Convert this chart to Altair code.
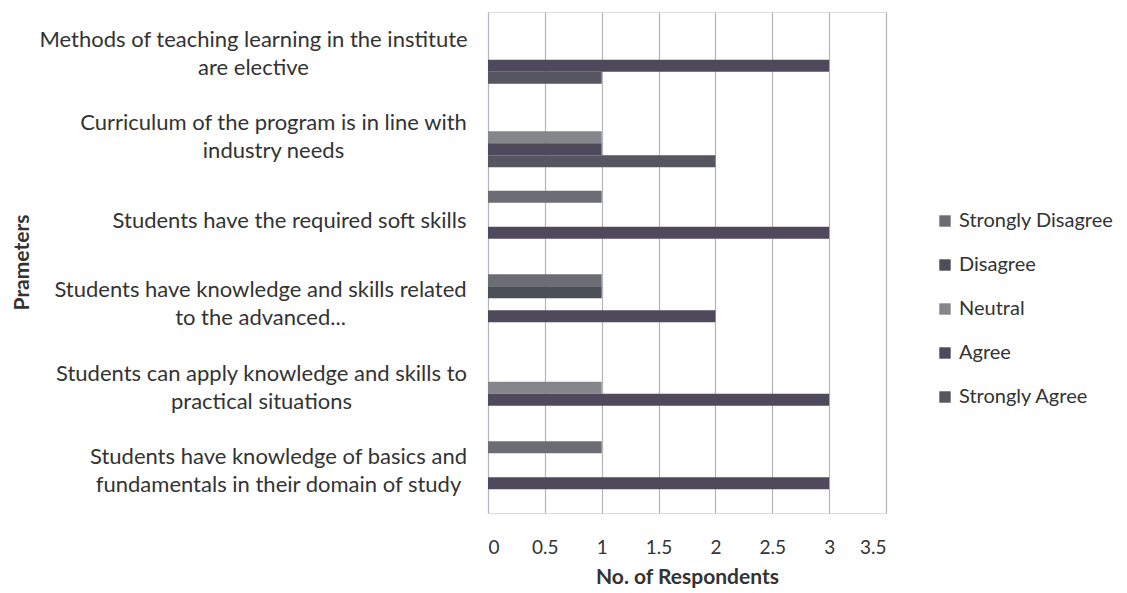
import altair as alt
import pandas as pd

# Categories, listed top to bottom as they appear
categories = [
    "Methods of teaching learning in the institute|are elective",
    "Curriculum of the program is in line with|industry needs",
    "Students have the required soft skills",
    "Students have knowledge and skills related|to the advanced...",
    "Students can apply knowledge and skills to|practical situations",
    "Students have knowledge of basics and|fundamentals in their domain of study",
]

series_names = ["Strongly Disagree", "Disagree", "Neutral", "Agree", "Strongly Agree"]

strongly_disagree = [0, 0, 1, 1, 0, 1]
disagree = [0, 0, 0, 1, 0, 0]
neutral = [0, 1, 0, 0, 1, 0]
agree = [3, 1, 3, 2, 3, 3]
strongly_agree = [1, 2, 0, 0, 0, 0]

series_colors = ["#6c6c74", "#4b4e57", "#85858c", "#4e4a5c", "#55565f"]

x_ticks = [0, 0.5, 1, 1.5, 2, 2.5, 3, 3.5]

values = [strongly_disagree, disagree, neutral, agree, strongly_agree]
rows = []
for s_name, vals in zip(series_names, values):
    for cat, v in zip(categories, vals):
        rows.append({"Parameter": cat, "Response": s_name, "Count": v})
df = pd.DataFrame(rows)

FONT = "Lato"
TEXT = "#333333"

# label block half-widths so that wrapped lines are centred, block right-aligned
label_pad = [235, 215, 199, 228, 227, 210]
pad_conditions = [
    {"test": f"datum.value === {repr(c)}", "value": p}
    for c, p in zip(categories, label_pad)
]

chart = (
    alt.Chart(df)
    .mark_bar()
    .encode(
        y=alt.Y(
            "Parameter:N",
            sort=categories,
            scale=alt.Scale(paddingInner=0.28, paddingOuter=0.14),
            axis=alt.Axis(
                title="Prameters",
                titleFont=FONT,
                titleFontSize=21,
                titleFontWeight="bold",
                titleColor=TEXT,
                titleAngle=270,
                titleX=-466,
                titleY=250,
                titleAlign="center",
                titleBaseline="middle",
                labelExpr="split(datum.label, '|')",
                labelFont=FONT,
                labelFontSize=22,
                labelColor=TEXT,
                labelLineHeight=28,
                labelLimit=600,
                labelAlign="center",
                labelPadding={"condition": pad_conditions, "value": 22},
                labelOffset={"condition": {"test": "indexof(datum.value, '|') >= 0", "value": -14}, "value": 0},
                ticks=False,
                domain=False,
                grid=False,
            ),
        ),
        yOffset=alt.YOffset(
            "Response:N",
            sort=series_names,
            scale=alt.Scale(paddingInner=0, paddingOuter=0),
        ),
        x=alt.X(
            "Count:Q",
            scale=alt.Scale(domain=[0, 3.5], nice=False),
            axis=alt.Axis(
                title="No. of Respondents",
                values=x_ticks,
                format="~g",
                titleFont=FONT,
                titleFontSize=21,
                titleFontWeight="bold",
                titleColor=TEXT,
                titlePadding=9,
                labelFont=FONT,
                labelFontSize=19,
                labelColor=TEXT,
                labelPadding=25,
                ticks=False,
                domain=False,
                grid=True,
                gridColor="#b4b4bc",
                gridWidth=1.2,
            ),
        ),
        color=alt.Color(
            "Response:N",
            sort=series_names,
            scale=alt.Scale(domain=series_names, range=series_colors),
            legend=alt.Legend(
                title=None,
                orient="none",
                legendX=447,
                legendY=199,
                symbolType="square",
                symbolSize=130,
                symbolStrokeWidth=0,
                labelFont=FONT,
                labelFontSize=20,
                labelColor=TEXT,
                labelOffset=4,
                rowPadding=24,
                labelLimit=300,
            ),
        ),
    )
    .properties(
        width=398,
        height=501,
        padding={"left": 480, "top": 4, "right": 233, "bottom": 80},
        autosize=alt.AutoSizeParams(type="none"),
    )
    .configure_view(stroke=None)
    .configure(background="white")
)

chart.save("out.html", embed_options={"renderer": "svg", "actions": False})
